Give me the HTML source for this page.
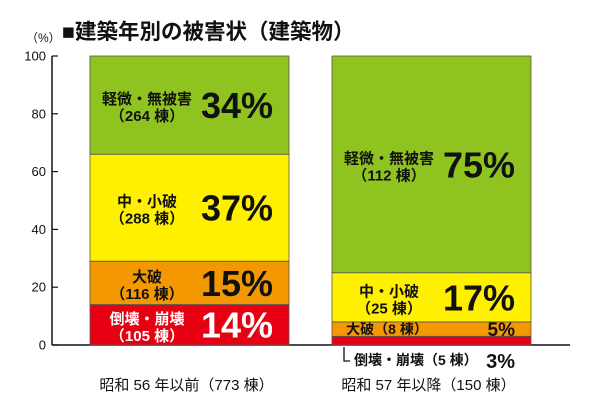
<!DOCTYPE html>
<html><head><meta charset="utf-8"><style>
html,body{margin:0;padding:0;background:#fff;}
svg{display:block;font-family:"Liberation Sans","Noto Sans CJK JP",sans-serif;}
</style></head><body>
<svg id="c" width="600" height="412" viewBox="0 0 600 412">
<text x="62" y="39" font-size="21.5" font-weight="bold" fill="#111">■建築年別の被害状（建築物）</text>
<text x="26" y="42" font-size="12" fill="#111">（%）</text>
<g id="axis"></g>
<g id="bars"></g>
</svg>
<script>
const categories=["昭和 56 年以前（773 棟）","昭和 57 年以降（150 棟）"];
const segNames=["倒壊・崩壊","大破","中・小破","軽微・無被害"];
const seriesOld=[14,15,37,34];
const seriesNew=[3,5,17,75];
const countsOld=[105,116,288,264];
const countsNew=[5,8,25,112];
const yTicks=[0,20,40,60,80,100];
const colors=["#e60012","#f39800","#fff000","#8fc31f"];
const NS="http://www.w3.org/2000/svg";
const y0=345,y100=56;
function y(v){return y0-(y0-y100)*v/100;}
const barX=[90,332],barW=199;
function mk(t,a,p){const e=document.createElementNS(NS,t);for(const k in a)e.setAttribute(k,a[k]);p.appendChild(e);return e;}
const ax=document.getElementById('axis');
const yl=mk('line',{x1:52,y1:y(100),x2:52,y2:y0,stroke:'#111','stroke-width':1.5},ax);


yTicks.forEach(t=>{
 const l=mk('line',{x1:52,x2:58,y1:y(t),y2:y(t),stroke:'#111','stroke-width':1.2},ax);
 
 
 const tx=mk('text',{x:46,y:y(t)+4.5,'font-size':13,'text-anchor':'end',fill:'#111'},ax);
 tx.textContent=t;
 
 
});
const bl=mk('line',{x1:52,x2:570,y1:y0,y2:y0,stroke:'#111','stroke-width':1.5},ax);


const bg=document.getElementById('bars');
[seriesOld,seriesNew].forEach((ser,bi)=>{
 const counts=bi===0?countsOld:countsNew;
 let cum=0;const x=barX[bi];
 ser.forEach((v,si)=>{
  const top=y(cum+v),bot=y(cum);cum+=v;
  const r=mk('rect',{x:x,y:top,width:barW,height:bot-top,fill:colors[si],stroke:'#555','stroke-width':0.8},bg);
  
  
  const mid=(top+bot)/2;
  const h=bot-top;
  const tc=si===0&&bi===0?'#fff':'#111';
  if(h>28){
   const big=h>40?36:28;
   const p=mk('text',{x:x+183,y:mid+big*0.36,'font-size':big,'font-weight':'bold','text-anchor':'end',fill:tc},bg);
   p.textContent=v+'%';
   
   
   const l1=mk('text',{x:x+57,y:mid-1,'font-size':15,'font-weight':'bold','text-anchor':'middle',fill:tc},bg);
   l1.textContent=segNames[si];
   
   
   const l2=mk('text',{x:x+57,y:mid+16,'font-size':15,'font-weight':'bold','text-anchor':'middle',fill:tc},bg);
   l2.textContent='（'+counts[si]+' 棟）';
   
   
  } else if(h>10){
   const l=mk('text',{x:x+55,y:mid+5,'font-size':14,'font-weight':'bold','text-anchor':'middle',fill:tc},bg);
   l.textContent=segNames[si]+'（'+counts[si]+' 棟）';
   
   
   const p=mk('text',{x:x+183,y:mid+7,'font-size':19,'font-weight':'bold','text-anchor':'end',fill:tc},bg);
   p.textContent=v+'%';
   
   
  } else {
   const c=mk('path',{d:`M${x+12} ${y0+2} V${y0+16} H${x+18}`,stroke:'#111','stroke-width':1.3,fill:'none'},bg);
   
   
   const l=mk('text',{x:x+22,y:y0+20,'font-size':14,'font-weight':'bold',fill:'#111'},bg);
   l.textContent=segNames[si]+'（'+counts[si]+' 棟）';
   
   
   const p=mk('text',{x:x+183,y:y0+23,'font-size':20,'font-weight':'bold','text-anchor':'end',fill:'#111'},bg);
   p.textContent=v+'%';
   
   
  }
 });
 const cl=mk('text',{x:x+barW/2-3,y:390,'font-size':15,'text-anchor':'middle',fill:'#111'},bg);
 cl.textContent=categories[bi];
 
 
});
</script>
</body></html>
